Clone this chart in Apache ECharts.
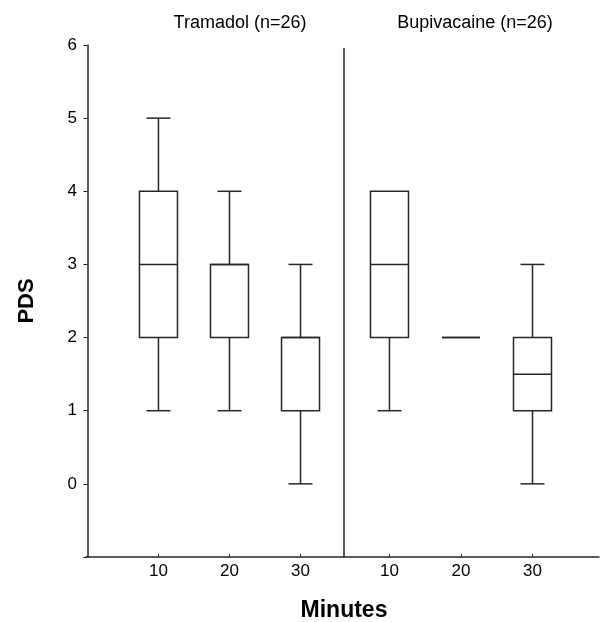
<!DOCTYPE html>
<html>
<head>
<meta charset="utf-8">
<script src="https://cdn.jsdelivr.net/npm/echarts@6/dist/echarts.min.js"></script>
<style>
  html, body { margin: 0; padding: 0; background: #fff; }
  #container { width: 601px; height: 622px; }
</style>
</head>
<body>
<div id="container"></div>
<script>
// minutes after block
var minutes = [10, 20, 30];
var yTicks = [-1, 0, 1, 2, 3, 4, 5, 6];

// PDS box statistics, per minute: min, Q1, median, Q3, max
var tramadolMin    = [1, 1, 0];
var tramadolQ1     = [2, 2, 1];
var tramadolMedian = [3, 3, 2];
var tramadolQ3     = [4, 3, 2];
var tramadolMax    = [5, 4, 3];

var bupiMin    = [1, 2, 0];
var bupiQ1     = [2, 2, 1];
var bupiMedian = [3, 2, 1.5];
var bupiQ3     = [4, 2, 2];
var bupiMax    = [4, 2, 3];

function rows(mn, q1, md, q3, mx) {
    return minutes.map(function (m, i) {
        return [m, mn[i], q1[i], md[i], q3[i], mx[i]];
    });
}

var LINE = '#262626';
var BOX_W = 38, CAP_W = 24;

function renderBox(params, api) {
    var x = api.value(0);
    var pMin = api.coord([x, api.value(1)]);
    var pQ1 = api.coord([x, api.value(2)]);
    var pMed = api.coord([x, api.value(3)]);
    var pQ3 = api.coord([x, api.value(4)]);
    var pMax = api.coord([x, api.value(5)]);
    var cx = pMed[0];
    var st = { stroke: LINE, lineWidth: 1.5, fill: null };
    var kids = [];
    if (pMin[1] - pQ1[1] > 0.5) {
        kids.push({ type: 'line', shape: { x1: cx, y1: pQ1[1], x2: cx, y2: pMin[1] }, style: st });
        kids.push({ type: 'line', shape: { x1: cx - CAP_W / 2, y1: pMin[1], x2: cx + CAP_W / 2, y2: pMin[1] }, style: st });
    }
    if (pQ3[1] - pMax[1] > 0.5) {
        kids.push({ type: 'line', shape: { x1: cx, y1: pQ3[1], x2: cx, y2: pMax[1] }, style: st });
        kids.push({ type: 'line', shape: { x1: cx - CAP_W / 2, y1: pMax[1], x2: cx + CAP_W / 2, y2: pMax[1] }, style: st });
    }
    kids.push({ type: 'rect', shape: { x: cx - BOX_W / 2, y: pQ3[1], width: BOX_W, height: pQ1[1] - pQ3[1] },
        style: { stroke: LINE, lineWidth: 1.5, fill: '#fff' } });
    kids.push({ type: 'line', shape: { x1: cx - BOX_W / 2, y1: pMed[1], x2: cx + BOX_W / 2, y2: pMed[1] }, style: st });
    return { type: 'group', children: kids };
}

var font = 'Arial, "Liberation Sans", sans-serif';

var dom = document.getElementById("container");
var myChart = echarts.init(dom);

function xAxisFor(idx, min, max) {
    return {
        gridIndex: idx, type: 'value', min: min, max: max,
        axisLine: { show: true, onZero: false, lineStyle: { color: LINE, width: 1.5 } },
        axisTick: { show: true, inside: true, length: 3, customValues: minutes, lineStyle: { color: LINE } },
        axisLabel: { customValues: minutes, margin: 6, color: '#000', fontSize: 17, fontFamily: font },
        splitLine: { show: false }
    };
}

var option = {
    backgroundColor: '#fff',
    animation: false,
    title: [
        { text: 'Tramadol (n=26)', left: 235, top: 9, textAlign: 'center',
          textStyle: { fontSize: 18, fontWeight: 'normal', color: '#000', fontFamily: font } },
        { text: 'Bupivacaine (n=26)', left: 470, top: 9, textAlign: 'center',
          textStyle: { fontSize: 18, fontWeight: 'normal', color: '#000', fontFamily: font } },
        { text: 'Minutes', left: 339, top: 594, textAlign: 'center',
          textStyle: { fontSize: 23, fontWeight: 'bold', color: '#000', fontFamily: font } }
    ],
    grid: [
        { left: 86, top: 45, width: 257.7, height: 512 },
        { left: 343.7, top: 45, width: 255.3, height: 512 }
    ],
    xAxis: [
        xAxisFor(0, -0.2, 36.08),
        xAxisFor(1, 3.6, 39.3)
    ],
    yAxis: [
        {
            gridIndex: 0, type: 'value', min: yTicks[0], max: yTicks[yTicks.length - 1], interval: 1,
            name: 'PDS', nameLocation: 'middle', nameGap: 48, nameRotate: 90,
            nameTextStyle: { fontSize: 22, fontWeight: 'bold', color: '#000', fontFamily: font },
            axisLine: { show: true, lineStyle: { color: LINE, width: 1.5 } },
            axisTick: { show: true, length: 4, lineStyle: { color: LINE } },
            axisLabel: { margin: 9, color: '#000', fontSize: 17, fontFamily: font,
                formatter: function (v) { return v < 0 ? '' : v; } },
            splitLine: { show: false }
        },
        {
            gridIndex: 1, type: 'value', min: yTicks[0], max: yTicks[yTicks.length - 1], interval: 1,
            axisLine: { show: false }, axisTick: { show: false }, axisLabel: { show: false }, splitLine: { show: false }
        }
    ],
    series: [
        { name: 'Tramadol', type: 'custom', xAxisIndex: 0, yAxisIndex: 0, renderItem: renderBox,
          data: rows(tramadolMin, tramadolQ1, tramadolMedian, tramadolQ3, tramadolMax) },
        { name: 'Bupivacaine', type: 'custom', xAxisIndex: 1, yAxisIndex: 1, renderItem: renderBox,
          data: rows(bupiMin, bupiQ1, bupiMedian, bupiQ3, bupiMax),
          // panel divider, stops just short of the top like the original
          markLine: { silent: true, symbol: 'none', label: { show: false },
              lineStyle: { color: LINE, width: 1.5, type: 'solid' },
              data: [[{ coord: [3.6, -1] }, { coord: [3.6, 5.96] }]] } }
    ]
};

myChart.setOption(option, true);
</script>
</body>
</html>
